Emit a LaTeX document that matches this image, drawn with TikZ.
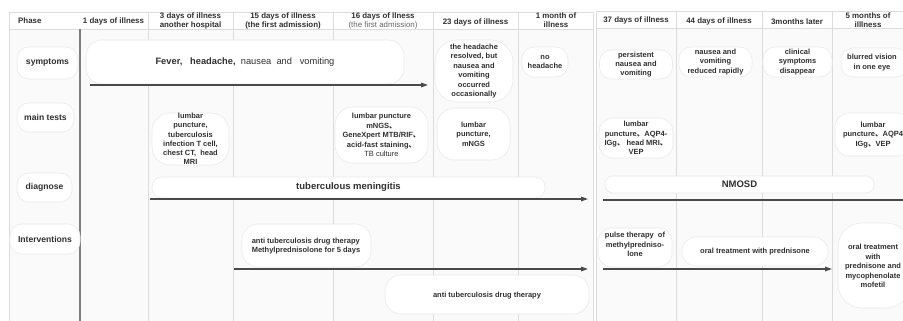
\documentclass[tikz,border=0pt]{standalone}
\usepackage{fontspec}
\setmainfont{Liberation Sans}
\newfontfamily\cjkf{Noto Sans CJK SC}
\usetikzlibrary{arrows.meta}
\newcommand\dn{{\cjkf 、}}
\definecolor{bgc}{HTML}{FAFAFA}
\definecolor{gridc}{HTML}{DCDCDC}
\definecolor{darkline}{HTML}{7E7E7E}
\definecolor{arrowc}{HTML}{4A4A4A}
\definecolor{txtc}{HTML}{303030}
\definecolor{boxc}{HTML}{EBEBEB}
\begin{document}
\begin{tikzpicture}[x=1pt,y=-1pt,
  grid/.style={draw=gridc, line width=0.9pt},
  hd/.style={font=\bfseries\fontsize{7.9}{9}\selectfont, text=txtc, align=center, inner sep=0pt},
  box/.style={draw=boxc, fill=white, rounded corners=12pt, inner sep=0pt, line width=0.6pt},
  txt/.style={font=\bfseries\fontsize{7.5}{9.4}\selectfont, text=txtc, align=center, inner sep=0pt},
  lbl/.style={font=\bfseries\fontsize{8.6}{10}\selectfont, text=txtc, align=center, inner sep=0pt},
  big/.style={font=\bfseries\fontsize{9.5}{11}\selectfont, text=txtc, align=center, inner sep=0pt},
  arr/.style={draw=arrowc, line width=1.2pt, -{Triangle[length=7pt,width=4.6pt]}},
  lin/.style={draw=arrowc, line width=1.2pt}
]
\useasboundingbox (0,0) rectangle (903,321);
\clip (0,0) rectangle (903,321);
\fill[white] (0,0) rectangle (903,321);
% body background
\fill[bgc] (9.5,29.5) rectangle (593,321);
\fill[bgc] (596,28.5) rectangle (903,321);
% header lines
\draw[grid] (9.5,12.5) -- (593,12.5);
\draw[grid] (9.5,29.5) -- (593,29.5);
\draw[grid] (596,11.5) -- (903,11.5);
\draw[grid] (596,28.5) -- (903,28.5);
% vertical lines
\draw[grid, line width=1.4pt] (9.5,12.5) -- (9.5,321);
\draw[draw=darkline, line width=1.5pt] (80,29.5) -- (80,321);
\foreach \xx in {148,233,333,433,518,593}{\draw[grid] (\xx,12.5) -- (\xx,321);}
\foreach \xx in {596,676.5,762,832}{\draw[grid] (\xx,11.5) -- (\xx,321);}
% header texts
\node[hd, anchor=west] (hPhase) at (18,21) {Phase};
\node[hd] (h1) at (113.5,21) {1 days of illness};
\node[hd] (h3) at (190.5,20.5) {3 days of illness\\another hospital};
\node[hd] (h15) at (283,20.5) {15 days of illness\\(the first admission)};
\node[hd] (h16) at (383,20.5) {16 days of llness\\{\mdseries\color{black!60}(the first admission)}};
\node[hd] (h23) at (475.5,22) {23 days of illness};
\node[hd] (h1m) at (556,20.5) {1 month of\\illness};
\node[hd] (h37) at (636,20.5) {37 days of illness};
\node[hd] (h44) at (719,21.5) {44 days of illness};
\node[hd] (h3m) at (797,21.5) {3months later};
\node[hd] (h5m) at (868,20.5) {5 months of\\illlness};
% row labels
\node[box, minimum width=61pt, minimum height=32pt] (symL) at (47.5,63) {};
\node[lbl] (symT) at (symL.center) {symptoms};
\node[box, minimum width=57pt, minimum height=29pt] (testL) at (45.5,117.5) {};
\node[lbl] (testT) at (testL.center) {main tests};
\node[box, minimum width=55pt, minimum height=29pt] (diagL) at (44.5,187.5) {};
\node[lbl] (diagT) at (diagL.center) {diagnose};
\node[box, minimum width=70pt, minimum height=30pt] (intL) at (45,239) {};
\node[lbl] (intT) at (intL.center) {Interventions};
% symptoms row
\node[box, rounded corners=16pt, minimum width=318pt, minimum height=44pt] (fever) at (245,62) {};
\node[inner sep=0pt, text=txtc, font=\fontsize{9.3}{11}\selectfont] (feverT) at (fever.center) {\textbf{Fever,\ \ \ headache,}\ \ nausea\ \ and\ \ \ vomiting};
\coordinate (a1s) at (90,85);
\coordinate (a1e) at (428,85);
\draw[arr] (a1s) -- (a1e);
\node[box, rounded corners=22pt, minimum width=78pt, minimum height=62pt] (headres) at (474,71) {};
\node[txt] (headresT) at (headres.center) {the headache\\resolved, but\\nausea and\\vomiting\\occurred\\occasionally};
\node[box, minimum width=46pt, minimum height=30pt] (nohead) at (545,62) {};
\node[txt] (noheadT) at (nohead.center) {no\\headache};
\node[box, minimum width=73pt, minimum height=29pt] (persist) at (636,64.5) {};
\node[txt] (persistT) at (persist.center) {persistent\\nausea and\\vomiting};
\node[box, minimum width=73pt, minimum height=30pt] (reduced) at (715.5,62) {};
\node[txt] (reducedT) at (reduced.center) {nausea and\\vomiting\\reduced rapidly};
\node[box, minimum width=69pt, minimum height=30pt] (clin) at (797.5,62) {};
\node[txt] (clinT) at (clin.center) {clinical\\symptoms\\disappear};
\node[box, minimum width=66pt, minimum height=29pt] (blur) at (874,62.5) {};
\node[txt] (blurT) at (872,62.5) {blurred vision\\in one eye};
% main tests row
\node[box, rounded corners=18pt, minimum width=77pt, minimum height=52pt] (tbtest) at (190.5,139) {};
\node[txt, font=\bfseries\fontsize{7.5}{9.3}\selectfont] (tbtestT) at (tbtest.center) {lumbar\\puncture,\\tuberculosis\\infection T cell,\\chest CT,\ \ head\\MRI};
\node[box, rounded corners=18pt, minimum width=93pt, minimum height=56pt] (mngs16) at (381.5,135) {};
\node[txt] (mngs16T) at (mngs16.center) {lumbar puncture\\mNGS\dn\\GeneXpert MTB/RIF\dn\\acid-fast staining\dn\\{\mdseries TB culture}};
\node[box, rounded corners=18pt, minimum width=73pt, minimum height=52pt] (mngs23) at (473.5,134) {};
\node[txt] (mngs23T) at (mngs23.center) {lumbar\\puncture,\\mNGS};
\node[box, rounded corners=14pt, minimum width=74pt, minimum height=40pt] (aqp37) at (636,138) {};
\node[txt] (aqp37T) at (aqp37.center) {lumbar\\puncture\dn AQP4-\\IGg\dn\ head MRI\dn\\VEP};
\node[box, rounded corners=14pt, minimum width=76pt, minimum height=43pt] (aqp5m) at (873,134.5) {};
\node[txt] (aqp5mT) at (873,135) {lumbar\\puncture\dn AQP4\\IGg\dn VEP};
% diagnose row
\node[box, rounded corners=10pt, minimum width=393pt, minimum height=21pt] (tbm) at (348.5,187.5) {};
\node[big] (tbmT) at (tbm.center) {tuberculous meningitis};
\coordinate (a2s) at (150,199);
\coordinate (a2e) at (588,199);
\draw[arr] (a2s) -- (a2e);
\node[box, rounded corners=8pt, minimum width=269pt, minimum height=17pt] (nmosd) at (739.5,184.5) {};
\node[big] (nmosdT) at (nmosd.center) {NMOSD};
\coordinate (l3s) at (603,200);
\coordinate (l3e) at (905,200);
\draw[lin] (l3s) -- (l3e);
% interventions row
\node[box, rounded corners=16pt, minimum width=129pt, minimum height=43pt] (antimp) at (306.5,245.5) {};
\node[txt, align=left] (antimpT) at (306,246) {anti tuberculosis drug therapy\\Methylprednisolone for 5 days};
\coordinate (a4s) at (234,269);
\coordinate (a4e) at (588,269);
\draw[arr] (a4s) -- (a4e);
\node[box, rounded corners=16pt, minimum width=204pt, minimum height=39pt] (antitb) at (487,294.5) {};
\node[txt] (antitbT) at (487,296) {anti tuberculosis drug therapy};
\node[box, rounded corners=14pt, minimum width=74pt, minimum height=39pt] (pulse) at (635,247.5) {};
\node[txt] (pulseT) at (635,244.5) {pulse therapy\ \ of\\methylpredniso-\\lone};
\node[box, rounded corners=14pt, minimum width=146pt, minimum height=29pt] (oral) at (755,251.5) {};
\node[txt] (oralT) at (oral.center) {oral treatment with prednisone};
\coordinate (a5s) at (603,269);
\coordinate (a5e) at (832,269);
\draw[arr] (a5s) -- (a5e);
\node[box, rounded corners=24pt, minimum width=72pt, minimum height=85pt] (oralmy) at (874,265.5) {};
\node[txt] (oralmyT) at (873,266) {oral treatment\\with\\prednisone and\\mycophenolate\\mofetil};
\end{tikzpicture}
\end{document}
